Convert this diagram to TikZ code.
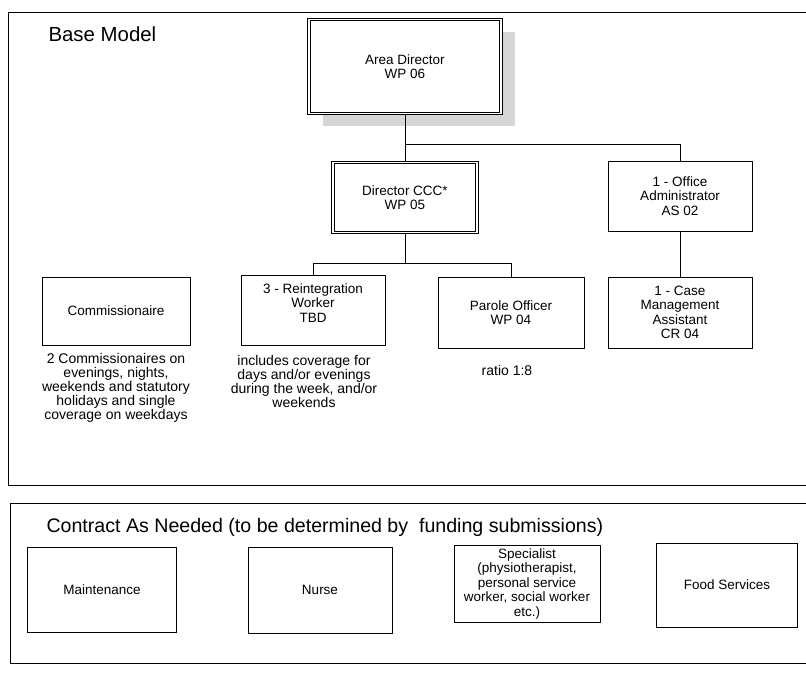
\documentclass[tikz,border=0pt]{standalone}
\usepackage{fontspec}
\setmainfont{Liberation Sans}
\usetikzlibrary{shadows}

\begin{document}
\begin{tikzpicture}[x=1pt,y=-1pt,
    box/.style={draw, line width=0.8pt, fill=white, minimum width=144pt, minimum height=70pt,
                align=center, inner sep=2pt, font=\fontsize{13.5}{14.5}\selectfont},
    dbox/.style={box, double, double distance=1.5pt},
    note/.style={align=center, font=\fontsize{14}{14}\selectfont},
    heading/.style={anchor=base west, font=\fontsize{19.6}{24}\selectfont},
    conn/.style={line width=0.8pt}]
             \useasboundingbox (0,0) rectangle (806,673);
             % frames
             \draw[line width=1pt] (8,12) rectangle (812,485);
             \draw[line width=1pt] (10,503) rectangle (812,663);
             \node[heading, font=\fontsize{20.4}{24}\selectfont] (base) at (45,41) {Base Model};
             \node[heading] (contract) at (43,532) {Contract As Needed (to be determined by \ funding submissions)};
             % base model
             \node[dbox, minimum width=192pt, minimum height=94pt,
                   drop shadow={shadow xshift=14pt, shadow yshift=-12pt, fill=gray!32, opacity=1}] (area) at (405,66.5) {Area Director\\WP 06};
             \node[dbox] (dir) at (405,197.5) {Director CCC*\\WP 05};
             \node[box] (offadm) at (680,196) {1 - Office\\Administrator\\AS 02};
             \node[box, minimum width=148pt, minimum height=68pt] (comm) at (116,311) {Commissionaire};
             \node[box] (reint) at (313,310) {3 - Reintegration\\Worker\\TBD\\\mbox{}};
             \node[box, minimum width=146pt, minimum height=71pt] (parole) at (511,312.5) {Parole Officer\\WP 04};
             \node[box, minimum height=71pt] (casem) at (680,312.5) {1 - Case\\Management\\Assistant\\CR 04};
             \node[note] (commnote) at (116,388) {2 Commissionaires on\\evenings, nights,\\weekends and statutory\\holidays and single\\coverage on weekdays};
             \node[note] (reintnote) at (304,381) {includes coverage for\\days and/or evenings\\during the week, and/or\\weekends};
             \node[note] (ratio) at (507,370) {ratio 1:8};
             \coordinate (split) at (405,144);
             \draw[conn] (area.south) -- (dir.north);
             \draw[conn] (split) -| (offadm.north);
             \draw[conn] (dir.south) -- ++(0,30) coordinate (split2);
             \draw[conn] (reint.north) |- (split2) -| (parole.north);
             \draw[conn] (offadm.south) -- (casem.north);
             % contract as needed
             \node[box, minimum width=149pt, minimum height=85pt] (maint) at (102,590) {Maintenance};
             \node[box, minimum height=86pt] (nurse) at (320,590) {Nurse};
             \node[box, minimum width=146pt, minimum height=77pt] (spec) at (527,583.5) {Specialist\\(physiotherapist,\\personal service\\worker, social worker\\etc.)};
             \node[box, minimum width=141pt, minimum height=84pt] (food) at (727,585) {Food Services};
            \end{tikzpicture}
\end{document}
